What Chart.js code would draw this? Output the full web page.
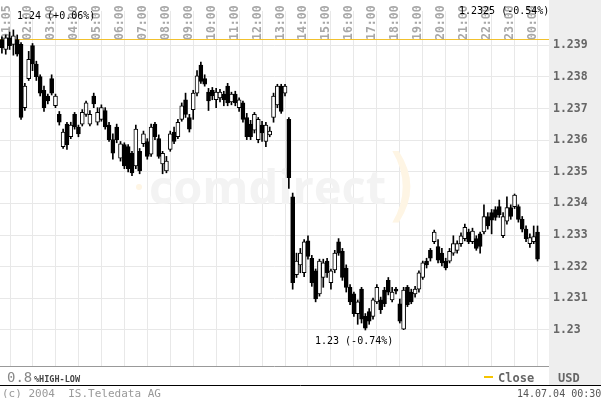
<!DOCTYPE html>
<html>
<head>
<meta charset="utf-8">
<script src="https://cdn.jsdelivr.net/npm/chart.js@4.4.1/dist/chart.umd.min.js"></script>
<style>
html, body { margin: 0; padding: 0; background: #fff; }
canvas { display: block; }
</style>
</head>
<body>
<canvas id="chart" width="601" height="398"></canvas>
<script>
// 10 minute candles, first one at 01:10
const startMinute = 70;
const stepMinutes = 10;

const opens = [
    1.23918, 1.23887, 1.23924, 1.23903, 1.23918, 1.23903, 1.23703, 1.23795, 1.23899, 1.23841,
    1.23801, 1.23758, 1.23740, 1.23795, 1.23709, 1.23682, 1.23580, 1.23651, 1.23611, 1.23682,
    1.23642, 1.23651, 1.23682, 1.23651, 1.23740, 1.23657, 1.23666, 1.23694, 1.23648, 1.23602,
    1.23642, 1.23543, 1.23586, 1.23580, 1.23559, 1.23519, 1.23565, 1.23589, 1.23596, 1.23556,
    1.23651, 1.23605, 1.23525, 1.23503, 1.23571, 1.23626, 1.23611, 1.23666, 1.23728, 1.23672,
    1.23697, 1.23749, 1.23838, 1.23795, 1.23752, 1.23758, 1.23728, 1.23734, 1.23746, 1.23771,
    1.23721, 1.23746, 1.23703, 1.23718, 1.23672, 1.23651, 1.23632, 1.23602, 1.23648, 1.23596,
    1.23617, 1.23672, 1.23712, 1.23771, 1.23749, 1.23666, 1.23421, 1.23175, 1.23206, 1.23181,
    1.23282, 1.23227, 1.23187, 1.23114, 1.23166, 1.23218, 1.23150, 1.23190, 1.23279, 1.23249,
    1.23196, 1.23135, 1.23114, 1.23052, 1.23129, 1.23043, 1.23058, 1.23043, 1.23089, 1.23095,
    1.23126, 1.23157, 1.23095, 1.23129, 1.23083, 1.23003, 1.23135, 1.23120, 1.23114, 1.23129,
    1.23166, 1.23218, 1.23252, 1.23279, 1.23264, 1.23243, 1.23218, 1.23218, 1.23243, 1.23252,
    1.23273, 1.23289, 1.23310, 1.23279, 1.23289, 1.23304, 1.23310, 1.23359, 1.23371, 1.23381,
    1.23390, 1.23298, 1.23344, 1.23387, 1.23390, 1.23390, 1.23350, 1.23319, 1.23273, 1.23279,
    1.23310
];
const highs = [
    1.23927, 1.23933, 1.23942, 1.23949, 1.23933, 1.23909, 1.23780, 1.23881, 1.23906, 1.23850,
    1.23807, 1.23771, 1.23746, 1.23807, 1.23746, 1.23691, 1.23635, 1.23657, 1.23657, 1.23688,
    1.23648, 1.23697, 1.23724, 1.23694, 1.23749, 1.23703, 1.23712, 1.23703, 1.23657, 1.23620,
    1.23651, 1.23596, 1.23592, 1.23586, 1.23565, 1.23648, 1.23574, 1.23629, 1.23605, 1.23651,
    1.23657, 1.23617, 1.23565, 1.23549, 1.23629, 1.23642, 1.23666, 1.23718, 1.23749, 1.23682,
    1.23758, 1.23820, 1.23847, 1.23807, 1.23764, 1.23767, 1.23764, 1.23761, 1.23755, 1.23780,
    1.23752, 1.23755, 1.23734, 1.23724, 1.23685, 1.23663, 1.23688, 1.23672, 1.23660, 1.23657,
    1.23642, 1.23749, 1.23777, 1.23777, 1.23777, 1.23672, 1.23433, 1.23243, 1.23258, 1.23286,
    1.23298, 1.23236, 1.23193, 1.23224, 1.23224, 1.23227, 1.23193, 1.23252, 1.23289, 1.23258,
    1.23206, 1.23144, 1.23120, 1.23095, 1.23135, 1.23052, 1.23068, 1.23101, 1.23144, 1.23104,
    1.23135, 1.23166, 1.23135, 1.23135, 1.23098, 1.23135, 1.23141, 1.23129, 1.23138, 1.23187,
    1.23218, 1.23227, 1.23258, 1.23316, 1.23286, 1.23258, 1.23227, 1.23258, 1.23298, 1.23282,
    1.23307, 1.23335, 1.23319, 1.23322, 1.23298, 1.23310, 1.23396, 1.23371, 1.23381, 1.23390,
    1.23411, 1.23371, 1.23421, 1.23396, 1.23430, 1.23396, 1.23359, 1.23329, 1.23304, 1.23329,
    1.23329
];
const lows = [
    1.23875, 1.23872, 1.23887, 1.23869, 1.23866, 1.23666, 1.23694, 1.23789, 1.23820, 1.23789,
    1.23740, 1.23691, 1.23715, 1.23743, 1.23703, 1.23648, 1.23574, 1.23571, 1.23605, 1.23635,
    1.23611, 1.23645, 1.23675, 1.23645, 1.23703, 1.23648, 1.23660, 1.23635, 1.23596, 1.23540,
    1.23592, 1.23534, 1.23510, 1.23500, 1.23488, 1.23510, 1.23494, 1.23580, 1.23540, 1.23549,
    1.23602, 1.23543, 1.23494, 1.23497, 1.23565, 1.23589, 1.23605, 1.23660, 1.23672, 1.23626,
    1.23666, 1.23740, 1.23780, 1.23771, 1.23694, 1.23728, 1.23703, 1.23721, 1.23709, 1.23709,
    1.23712, 1.23709, 1.23691, 1.23657, 1.23602, 1.23602, 1.23623, 1.23592, 1.23596, 1.23580,
    1.23611, 1.23657, 1.23703, 1.23685, 1.23740, 1.23448, 1.23129, 1.23166, 1.23181, 1.23169,
    1.23224, 1.23138, 1.23089, 1.23107, 1.23135, 1.23166, 1.23129, 1.23181, 1.23236, 1.23157,
    1.23120, 1.23080, 1.23043, 1.23018, 1.23022, 1.23000, 1.23018, 1.23034, 1.23083, 1.23052,
    1.23074, 1.23111, 1.23089, 1.23114, 1.23022, 1.23001, 1.23074, 1.23083, 1.23104, 1.23120,
    1.23160, 1.23196, 1.23218, 1.23273, 1.23212, 1.23203, 1.23190, 1.23212, 1.23236, 1.23243,
    1.23264, 1.23282, 1.23273, 1.23273, 1.23252, 1.23243, 1.23304, 1.23319, 1.23304, 1.23347,
    1.23356, 1.23292, 1.23335, 1.23350, 1.23384, 1.23341, 1.23310, 1.23279, 1.23261, 1.23273,
    1.23218
];
const closes = [
    1.23893, 1.23924, 1.23899, 1.23930, 1.23872, 1.23672, 1.23771, 1.23856, 1.23841, 1.23801,
    1.23749, 1.23703, 1.23724, 1.23749, 1.23740, 1.23657, 1.23626, 1.23586, 1.23648, 1.23642,
    1.23620, 1.23688, 1.23718, 1.23682, 1.23715, 1.23688, 1.23703, 1.23642, 1.23602, 1.23559,
    1.23602, 1.23589, 1.23519, 1.23510, 1.23497, 1.23635, 1.23503, 1.23620, 1.23549, 1.23642,
    1.23611, 1.23549, 1.23559, 1.23534, 1.23620, 1.23596, 1.23657, 1.23709, 1.23682, 1.23635,
    1.23749, 1.23804, 1.23786, 1.23777, 1.23724, 1.23740, 1.23752, 1.23752, 1.23728, 1.23718,
    1.23746, 1.23718, 1.23728, 1.23666, 1.23611, 1.23611, 1.23682, 1.23666, 1.23623, 1.23648,
    1.23629, 1.23740, 1.23771, 1.23691, 1.23771, 1.23482, 1.23150, 1.23218, 1.23243, 1.23279,
    1.23233, 1.23150, 1.23098, 1.23218, 1.23212, 1.23181, 1.23187, 1.23243, 1.23243, 1.23166,
    1.23135, 1.23089, 1.23052, 1.23089, 1.23034, 1.23006, 1.23028, 1.23095, 1.23135, 1.23064,
    1.23083, 1.23120, 1.23120, 1.23123, 1.23028, 1.23126, 1.23080, 1.23089, 1.23129, 1.23181,
    1.23212, 1.23206, 1.23227, 1.23310, 1.23221, 1.23212, 1.23196, 1.23249, 1.23273, 1.23273,
    1.23298, 1.23325, 1.23279, 1.23313, 1.23258, 1.23264, 1.23359, 1.23329, 1.23347, 1.23356,
    1.23365, 1.23359, 1.23387, 1.23359, 1.23427, 1.23350, 1.23319, 1.23289, 1.23292, 1.23295,
    1.23224
];

const prevClose = 1.2392;

const hourTicks = [65, 120, 180, 240, 300, 360, 420, 480, 540, 600, 660, 720, 780,
    840, 900, 960, 1020, 1080, 1140, 1200, 1260, 1320, 1380, 1440];
const hourLabels = ['01:05', '02:00', '03:00', '04:00', '05:00', '06:00', '07:00', '08:00',
    '09:00', '10:00', '11:00', '12:00', '13:00', '14:00', '15:00', '16:00', '17:00',
    '18:00', '19:00', '20:00', '21:00', '22:00', '23:00', '00:00'];

const priceTicks = [1.23, 1.231, 1.232, 1.233, 1.234, 1.235, 1.236, 1.237, 1.238, 1.239];
const priceLabels = ['1.23', '1.231', '1.232', '1.233', '1.234', '1.235', '1.236', '1.237', '1.238', '1.239'];

const highNote = '1.24 (+0.06%)';
const lastNote = '1.2325 (-0.54%)';
const lowNote = '1.23 (-0.74%)';

const candleTimes = closes.map((c, i) => startMinute + i * stepMinutes);
const wickData = candleTimes.map((t, i) => ({ x: t, y: [lows[i], highs[i]] }));
const bodyData = candleTimes.map((t, i) => ({ x: t, y: [opens[i], closes[i]] }));
const bodyColors = closes.map((c, i) => c >= opens[i] ? '#ffffff' : '#000000');

const mono = '"DejaVu Sans Mono", "Liberation Mono", monospace';

// background panel, watermark, close line, hour labels
const backPlugin = {
    id: 'back',
    beforeDraw(chart) {
        const ctx = chart.ctx;
        ctx.save();
        ctx.fillStyle = '#ffffff';
        ctx.fillRect(0, 0, chart.width, chart.height);
        ctx.fillStyle = '#eeeeee';
        ctx.fillRect(549, 0, 52, 385);
        ctx.restore();
    },
    beforeDatasetsDraw(chart) {
        const ctx = chart.ctx;
        const area = chart.chartArea;
        const xs = chart.scales.x;
        const ys = chart.scales.y;
        ctx.save();

        // watermark
        ctx.fillStyle = '#f3f3f3';
        ctx.font = 'bold 47px "Open Sans", sans-serif';
        ctx.textBaseline = 'alphabetic';
        ctx.fillText('comdirect', 149, 204);
        ctx.fillStyle = '#fef5e4';
        ctx.font = '80px "DejaVu Sans", sans-serif';
        ctx.fillText(')', 386, 212);
        ctx.beginPath();
        ctx.arc(139, 187, 3, 0, Math.PI * 2);
        ctx.fill();

        // previous close line
        const yc = Math.round(ys.getPixelForValue(prevClose)) + 0.5;
        ctx.strokeStyle = '#f2c12e';
        ctx.lineWidth = 1;
        ctx.beginPath();
        ctx.moveTo(area.left, yc);
        ctx.lineTo(area.right, yc);
        ctx.stroke();

        // hour labels, rotated
        ctx.fillStyle = '#a8a8a8';
        ctx.font = 'bold 11.5px ' + mono;
        ctx.textAlign = 'left';
        ctx.textBaseline = 'middle';
        hourTicks.forEach((v, i) => {
            const x = xs.getPixelForValue(v) + 7;
            ctx.save();
            ctx.translate(x, 40);
            ctx.rotate(-Math.PI / 2);
            ctx.fillText(hourLabels[i], 0, 0);
            ctx.restore();
        });
        ctx.restore();
    },
    afterDraw(chart) {
        const ctx = chart.ctx;
        ctx.save();

        // frame lines
        ctx.strokeStyle = '#999999';
        ctx.lineWidth = 1;
        ctx.beginPath();
        ctx.moveTo(0, 366.5);
        ctx.lineTo(549, 366.5);
        ctx.stroke();
        ctx.strokeStyle = '#000000';
        ctx.beginPath();
        ctx.moveTo(0, 385.5);
        ctx.lineTo(601, 385.5);
        ctx.stroke();

        // notes
        ctx.fillStyle = '#000000';
        ctx.font = '10px ' + mono;
        ctx.textBaseline = 'middle';
        ctx.fillText(highNote, 17, 16);
        ctx.fillText(lastNote, 459, 11);
        ctx.fillText(lowNote, 315, 341);

        // legend row
        ctx.textBaseline = 'alphabetic';
        ctx.fillStyle = '#888888';
        ctx.font = '14px ' + mono;
        ctx.fillText('0.8', 7, 382);
        ctx.fillStyle = '#444444';
        ctx.font = 'bold 8.5px ' + mono;
        ctx.fillText('%HIGH-LOW', 34, 382);
        ctx.strokeStyle = '#f5c400';
        ctx.lineWidth = 2;
        ctx.beginPath();
        ctx.moveTo(484, 377);
        ctx.lineTo(493, 377);
        ctx.stroke();
        ctx.fillStyle = '#666666';
        ctx.font = 'bold 12px ' + mono;
        ctx.fillText('Close', 498, 382);
        ctx.fillText('USD', 558, 382);

        // footer
        ctx.font = '11px ' + mono;
        ctx.fillStyle = '#999999';
        ctx.fillText('(c) 2004  IS.Teledata AG', 2, 397);
        ctx.font = '10px ' + mono;
        ctx.fillStyle = '#555555';
        ctx.fillText('14.07.04 00:30', 517, 397);
        ctx.restore();
    }
};

new Chart(document.getElementById('chart'), {
    type: 'bar',
    data: {
        datasets: [
            {
                label: 'Body',
                data: bodyData,
                backgroundColor: bodyColors,
                borderColor: '#000000',
                borderWidth: 1,
                borderSkipped: false,
                barThickness: 4,
                grouped: false,
                order: 1
            },
            {
                label: 'Wick',
                data: wickData,
                backgroundColor: '#000000',
                borderWidth: 0,
                barThickness: 1,
                grouped: false,
                order: 2
            }
        ]
    },
    options: {
        responsive: false,
        animation: false,
        events: [],
        layout: { padding: { left: 0, right: 0, top: 0, bottom: 31 } },
        plugins: {
            legend: { display: false },
            tooltip: { enabled: false }
        },
        scales: {
            x: {
                type: 'linear',
                min: 65,
                max: 1500,
                offset: false,
                ticks: { display: false },
                grid: { color: '#e8e8e8', drawTicks: false },
                border: { display: false },
                afterBuildTicks: s => { s.ticks = hourTicks.map(v => ({ value: v })); },
                afterFit: s => { s.height = 0; }
            },
            y: {
                position: 'right',
                min: 1.22883,
                max: 1.24009,
                afterBuildTicks: s => { s.ticks = priceTicks.map(v => ({ value: v })); },
                afterFit: s => { s.width = 52; },
                ticks: {
                    callback: (v, i) => priceLabels[i],
                    color: '#666666',
                    padding: 4,
                    font: { family: mono, size: 11.5, weight: 'bold' }
                },
                grid: { color: '#e8e8e8', drawTicks: false },
                border: { display: false }
            }
        }
    },
    plugins: [backPlugin]
});
</script>
</body>
</html>
